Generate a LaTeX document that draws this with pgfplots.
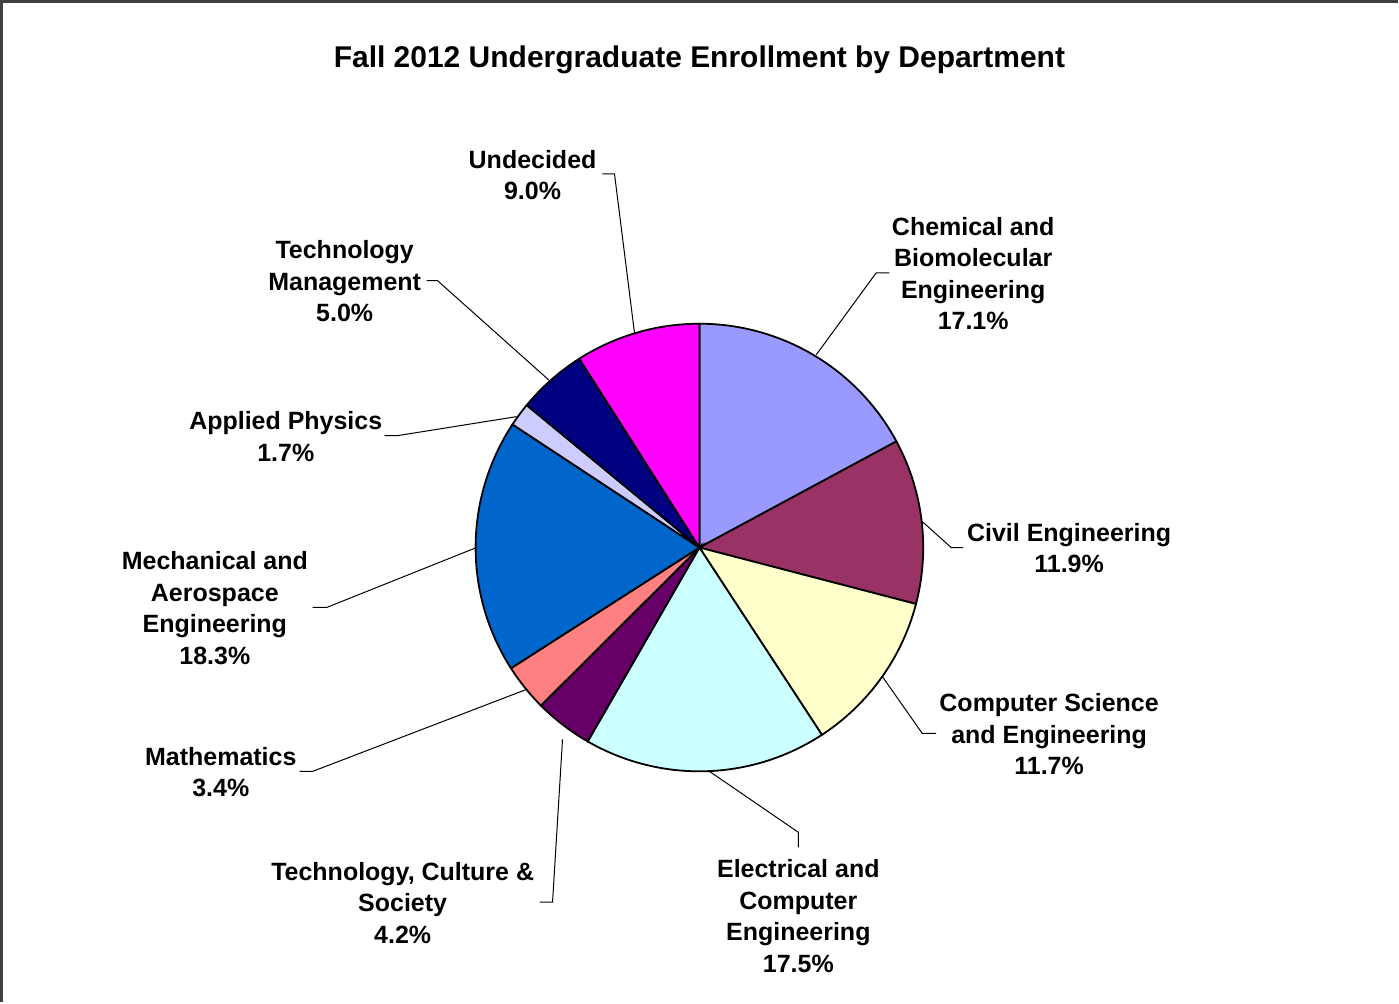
\documentclass[border=0pt]{standalone}
\usepackage{pgfplots}
\pgfplotsset{compat=1.18}
\usepackage{fontspec}
\setmainfont{Liberation Sans}
\definecolor{cChem}{HTML}{9999FF}
\definecolor{cCivil}{HTML}{993366}
\definecolor{cCS}{HTML}{FFFFCC}
\definecolor{cECE}{HTML}{CCFFFF}
\definecolor{cTCS}{HTML}{660066}
\definecolor{cMath}{HTML}{FF8080}
\definecolor{cMAE}{HTML}{0066CC}
\definecolor{cAP}{HTML}{CCCCFF}
\definecolor{cTM}{HTML}{000080}
\definecolor{cUnd}{HTML}{FF00FF}
\tikzset{lbl/.style={font=\bfseries\fontsize{12.5}{15.75}\selectfont, align=center, inner sep=0pt}}
% slice shares (percent), clockwise from 12 o'clock:
% Chemical 17.1, Civil 11.9, CS 11.7, ECE 17.5, TCS 4.2, Math 3.4,
% MAE 18.3, Applied Physics 1.7, Technology Management 5.0, Undecided 9.0
\newcommand{\slice}[3]{%
  \addplot[fill=#1, draw=black, line width=0.9pt, domain=#2:#3, samples=80, variable=\t]
    ({700+224*sin(3.6072*\t)},{-548+224*cos(3.6072*\t)}) -- (axis cs:700,-548) -- cycle;}
\begin{document}
\begin{tikzpicture}
\begin{axis}[
  width=699.5pt, height=501.5pt, scale only axis,
  xmin=0, xmax=1399, ymin=-1003, ymax=0,
  hide axis, clip=false,
]
\path (axis cs:0,0) rectangle (axis cs:1399,-1003);
\slice{cChem}{0}{17.1}
\slice{cCivil}{17.1}{29.0}
\slice{cCS}{29.0}{40.7}
\slice{cECE}{40.7}{58.2}
\slice{cTCS}{58.2}{62.4}
\slice{cMath}{62.4}{65.8}
\slice{cMAE}{65.8}{84.1}
\slice{cAP}{84.1}{85.8}
\slice{cTM}{85.8}{90.8}
\slice{cUnd}{90.8}{99.8}
% leader lines
\draw[line width=0.5pt] (axis cs:890,-273) -- (axis cs:877,-273) -- (axis cs:817,-355);
\draw[line width=0.5pt] (axis cs:964,-548) -- (axis cs:952,-548) -- (axis cs:923,-522);
\draw[line width=0.5pt] (axis cs:937,-734) -- (axis cs:923,-734) -- (axis cs:883,-677);
\draw[line width=0.5pt] (axis cs:799,-848) -- (axis cs:799,-833) -- (axis cs:710,-772);
\draw[line width=0.5pt] (axis cs:540,-903) -- (axis cs:553,-903) -- (axis cs:563,-740);
\draw[line width=0.5pt] (axis cs:300,-772) -- (axis cs:313,-772) -- (axis cs:527,-690);
\draw[line width=0.5pt] (axis cs:313,-608) -- (axis cs:327,-608) -- (axis cs:477,-548);
\draw[line width=0.5pt] (axis cs:385,-436) -- (axis cs:398,-436) -- (axis cs:517,-417);
\draw[line width=0.5pt] (axis cs:427,-281) -- (axis cs:438,-281) -- (axis cs:550,-381);
\draw[line width=0.5pt] (axis cs:603,-174) -- (axis cs:615,-174) -- (axis cs:635,-333);
% labels
\node[lbl, font=\bfseries\fontsize{15}{18}\selectfont, anchor=base] at (axis cs:700,-68) {Fall 2012 Undergraduate Enrollment by Department};
\node[lbl] at (axis cs:533,-175.5) {Undecided\\9.0\%};
\node[lbl] at (axis cs:974,-274) {Chemical and\\Biomolecular\\Engineering\\17.1\%};
\node[lbl] at (axis cs:1070,-548.5) {Civil Engineering\\11.9\%};
\node[lbl] at (axis cs:1050,-735) {Computer Science\\and Engineering\\11.7\%};
\node[lbl] at (axis cs:799,-917) {Electrical and\\Computer\\Engineering\\17.5\%};
\node[lbl] at (axis cs:403,-903.5) {Technology, Culture \&\\Society\\4.2\%};
\node[lbl] at (axis cs:221,-772.5) {Mathematics\\3.4\%};
\node[lbl] at (axis cs:215,-608.5) {Mechanical and\\Aerospace\\Engineering\\18.3\%};
\node[lbl] at (axis cs:286,-437) {Applied Physics\\1.7\%};
\node[lbl] at (axis cs:345,-281.5) {Technology\\Management\\5.0\%};
% frame
\draw[black!75, line width=1.2pt] (axis cs:1.5,-1003) -- (axis cs:1.5,-1.5) -- (axis cs:1399,-1.5);
\end{axis}
\end{tikzpicture}
\end{document}
